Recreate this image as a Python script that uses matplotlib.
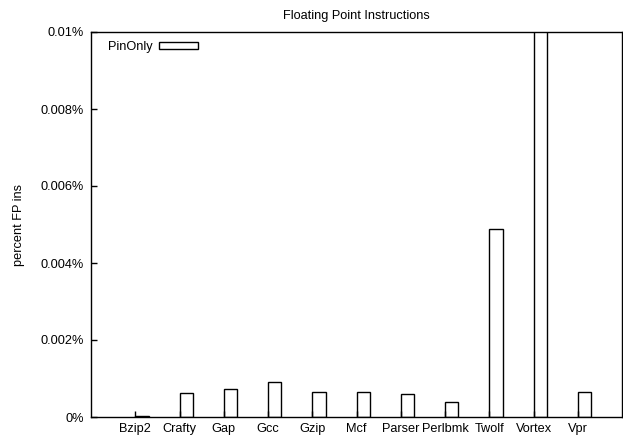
import matplotlib
matplotlib.use("Agg")
import matplotlib.pyplot as plt

categories = ["Bzip2", "Crafty", "Gap", "Gcc", "Gzip", "Mcf", "Parser",
              "Perlbmk", "Twolf", "Vortex", "Vpr"]
pin_only = [0.00003, 0.00062, 0.00072, 0.00090, 0.00064, 0.00064, 0.00060,
            0.00040, 0.00488, 0.0125, 0.00066]
yticks = [0, 0.002, 0.004, 0.006, 0.008, 0.01]
ytick_labels = ["0%", "0.002%", "0.004%", "0.006%", "0.008%", "0.01%"]

plt.rcParams['font.family'] = ['Liberation Sans', 'DejaVu Sans']
FS = 9.2
fig = plt.figure(figsize=(6.23, 4.37), dpi=100)
ax = fig.add_axes([91/623, 20/437, (622-91)/623, (417-32)/437])

xs = list(range(1, len(categories) + 1))
ax.bar(xs, pin_only, width=0.3, align='edge', facecolor='white',
       edgecolor='black', linewidth=1.0, label='PinOnly')

ax.set_xlim(0, 12)
ax.set_ylim(0, 0.01)
ax.set_xticks(xs)
ax.set_xticklabels(categories, fontsize=FS)
ax.set_yticks(yticks)
ax.set_yticklabels(ytick_labels, fontsize=FS)
ax.tick_params(axis='both', direction='in', length=4, width=1, pad=5)
ax.tick_params(axis='x', pad=4)
for s in ax.spines.values():
    s.set_linewidth(1.0)

ax.set_title("Floating Point Instructions", fontsize=FS, pad=9)
ax.set_ylabel("percent FP ins", fontsize=FS, labelpad=11)

leg = ax.legend(loc='upper left', frameon=False, fontsize=FS,
                markerfirst=False, handlelength=3.0, handleheight=0.45,
                handletextpad=0.52, borderaxespad=0.3,
                bbox_to_anchor=(0.015, 1.0))

fig.savefig("out.png", dpi=100)
